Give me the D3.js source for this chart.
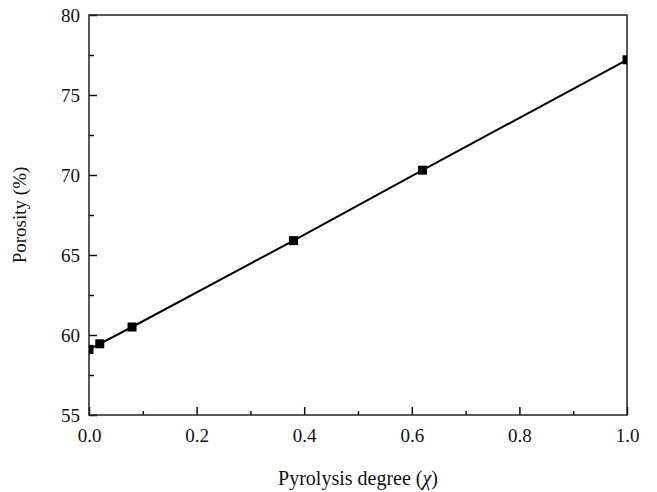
<!DOCTYPE html>
<html>
<head>
<meta charset="utf-8">
<script src="https://cdn.jsdelivr.net/npm/d3@7"></script>
<style>
  body { margin: 0; background: #fff; }
  text { font-family: "Liberation Serif", "DejaVu Serif", serif; fill: #111; }
</style>
</head>
<body>
<svg id="chart" width="657" height="492"></svg>
<script>
'use strict';

let pyrolysis = [0, 0.02, 0.08, 0.38, 0.62, 1.0];
let porosity = [59.1, 59.45, 60.5, 65.9, 70.3, 77.2];
let xTicks = [0, 0.2, 0.4, 0.6, 0.8, 1.0];
let yTicks = [55, 60, 65, 70, 75, 80];

let svg = d3.select('#chart');
let margin = {left: 89, top: 15, right: 30, bottom: 77};
let w = 657 - margin.left - margin.right;
let h = 492 - margin.top - margin.bottom;

let x = d3.scaleLinear().domain([0, 1]).range([0, w]);
let y = d3.scaleLinear().domain([55, 80]).range([h, 0]);

let g = svg.append('g')
  .attr('transform', `translate(${margin.left},${margin.top})`);

g.append('defs').append('clipPath')
  .attr('id', 'plotclip')
  .append('rect')
  .attr('width', w)
  .attr('height', h);

// minor ticks first, majors on top
let xMinor = d3.axisBottom(x).tickValues(d3.range(0.1, 1, 0.2)).tickSize(-4).tickFormat('');
let yMinor = d3.axisLeft(y).tickValues(d3.range(57.5, 80, 5)).tickSize(-5).tickFormat('');
let xAxis = d3.axisBottom(x).tickValues(xTicks).tickSize(-8).tickPadding(14).tickFormat(d3.format('.1f'));
let yAxis = d3.axisLeft(y).tickValues(yTicks).tickSize(-8).tickPadding(9).tickFormat(d3.format('d'));

[xMinor, xAxis].forEach(a => {
  g.append('g')
    .attr('transform', `translate(0,${h})`)
    .call(a);
});
[yMinor, yAxis].forEach(a => {
  g.append('g').call(a);
});

g.selectAll('.domain').remove();
g.selectAll('.tick line').style('stroke', '#111').style('stroke-width', 1.5);
g.selectAll('.tick text')
  .style('font-size', '19px')
  .style('font-family', '"Liberation Serif", serif')
  .style('fill', '#111');

// frame
g.append('rect')
  .attr('width', w)
  .attr('height', h)
  .style('fill', 'none')
  .style('stroke', '#222')
  .style('stroke-width', 1.5);

let pts = pyrolysis.map((v, i) => [v, porosity[i]]);
let plot = g.append('g').attr('clip-path', 'url(#plotclip)');

plot.append('path')
  .datum(pts)
  .attr('d', d3.line().x(d => x(d[0])).y(d => y(d[1])))
  .style('fill', 'none')
  .style('stroke', '#000')
  .style('stroke-width', 2);

let s = 9;
plot.selectAll('rect.pt')
  .data(pts)
  .enter()
  .append('rect')
  .classed('pt', true)
  .attr('x', d => x(d[0]) - s / 2)
  .attr('y', d => y(d[1]) - s / 2)
  .attr('width', s)
  .attr('height', s)
  .style('fill', '#000');

svg.append('text')
  .attr('transform', `translate(26,${margin.top + h / 2}) rotate(-90)`)
  .style('text-anchor', 'middle')
  .style('font-size', '19px')
  .text('Porosity (%)');

let xl = svg.append('text')
  .attr('x', margin.left + w / 2)
  .attr('y', 485)
  .style('text-anchor', 'middle')
  .style('font-size', '20px');
xl.append('tspan').text('Pyrolysis degree (');
xl.append('tspan').style('font-style', 'italic').text('χ');
xl.append('tspan').text(')');
</script>
</body>
</html>
